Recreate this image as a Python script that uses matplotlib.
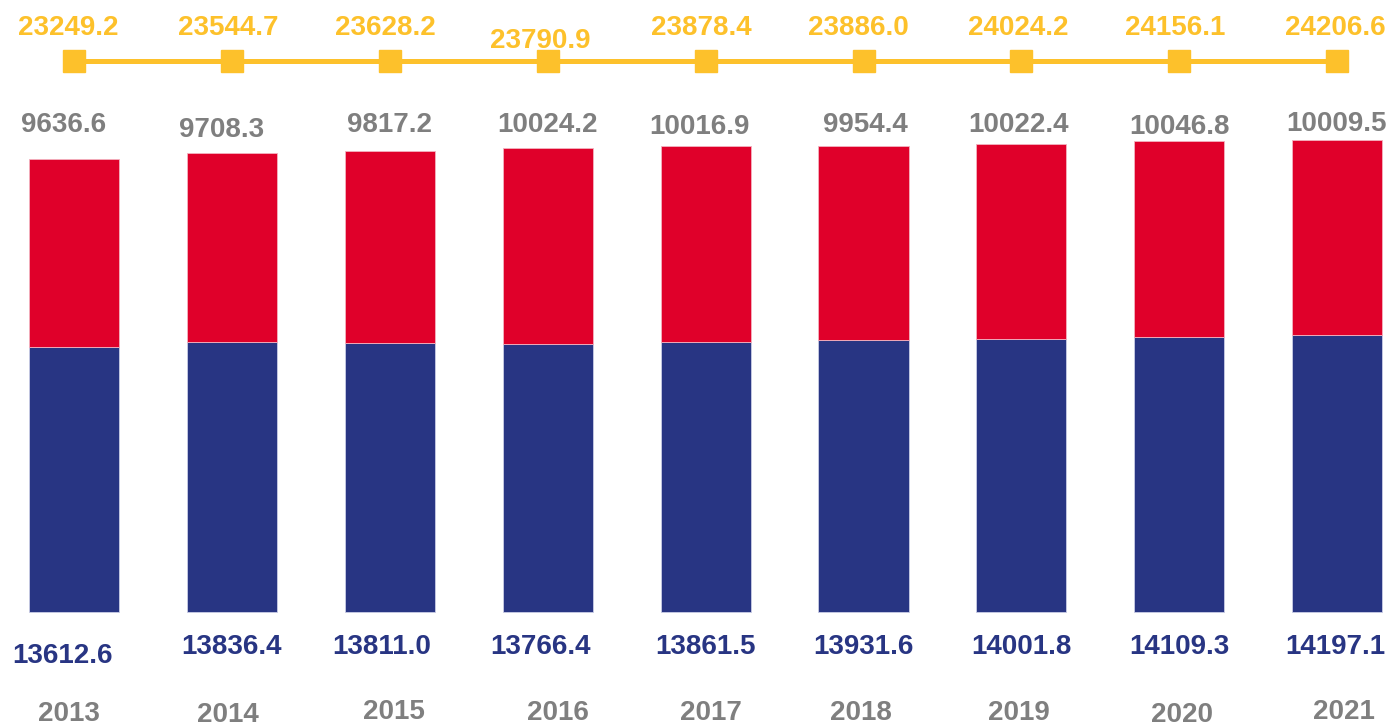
import numpy as np
import matplotlib
matplotlib.use("Agg")
import matplotlib.pyplot as plt

# data
years = ['2013', '2014', '2015', '2016', '2017', '2018', '2019', '2020', '2021']
lower = [13612.6, 13836.4, 13811.0, 13766.4, 13861.5, 13931.6, 14001.8, 14109.3, 14197.1]
upper = [9636.6, 9708.3, 9817.2, 10024.2, 10016.9, 9954.4, 10022.4, 10046.8, 10009.5]
total = [23249.2, 23544.7, 23628.2, 23790.9, 23878.4, 23886.0, 24024.2, 24156.1, 24206.6]

BLUE = '#283583'
RED = '#E0002A'
YELLOW = '#FDC12B'
GREY = '#7F7F7F'

plt.rcParams['font.family'] = ['Liberation Sans', 'DejaVu Sans']

W, H = 1390, 728
fig = plt.figure(figsize=(W / 100, H / 100), dpi=100)
ax = fig.add_axes([0, 0, 1, 1])
ax.set_axis_off()

x = np.arange(len(years))
px_per_unit = 0.01950
base_px = 116   # bar baseline, px from bottom
step_px = 157.9
x0_px = 74
ax.set_xlim(-x0_px / step_px, (W - x0_px) / step_px)
ax.set_ylim(-base_px / px_per_unit, (H - base_px) / px_per_unit)

ax.bar(x, lower, width=0.57, color=BLUE, edgecolor='#c9cde6', linewidth=0.6)
ax.bar(x, upper, bottom=lower, width=0.57, color=RED, edgecolor='#f3b3c0', linewidth=0.6)

# total line drawn as a flat strip near the top
line_y = 1 - 61 / H
ax.plot(x, np.full(len(x), line_y), transform=ax.get_xaxis_transform(),
        color=YELLOW, lw=3.6, marker='s', ms=15.5, mec=YELLOW, mfc=YELLOW,
        solid_capstyle='butt', clip_on=False)

# label placement (px offsets from bar centre, baseline px from top)
tot_dx = [-6, -4, -4, -7, -4, -5, -3, -4, -2]
tot_by = [35, 35, 35, 48, 35, 35, 35, 35, 35]
up_dx = [-10, -10, 0, 0, -6, 2, -3, 0, -1]
up_by = [132, 137, 132, 132, 134, 132, 132, 134, 131]
lo_dx = [-11, 0, -8, -7, 0, 0, 0, 0, -2]
lo_by = [663, 654, 654, 654, 654, 654, 654, 654, 654]
yr_dx = [-5, -4, 4, 10, 5, -3, -3, 3, 7]
yr_by = [721, 722, 719, 720, 720, 720, 720, 722, 719]


def put(i, text, dx, by, color):
    xp = x0_px + step_px * i + dx
    fig.text(xp / W, (H - by) / H, text, ha='center', va='baseline',
             fontsize=20, fontweight='bold', color=color)


for i in range(len(years)):
    put(i, f'{total[i]:.1f}', tot_dx[i], tot_by[i], YELLOW)
    put(i, f'{upper[i]:.1f}', up_dx[i], up_by[i], GREY)
    put(i, f'{lower[i]:.1f}', lo_dx[i], lo_by[i], BLUE)
    put(i, years[i], yr_dx[i], yr_by[i], GREY)

fig.savefig('out.png', dpi=100)
